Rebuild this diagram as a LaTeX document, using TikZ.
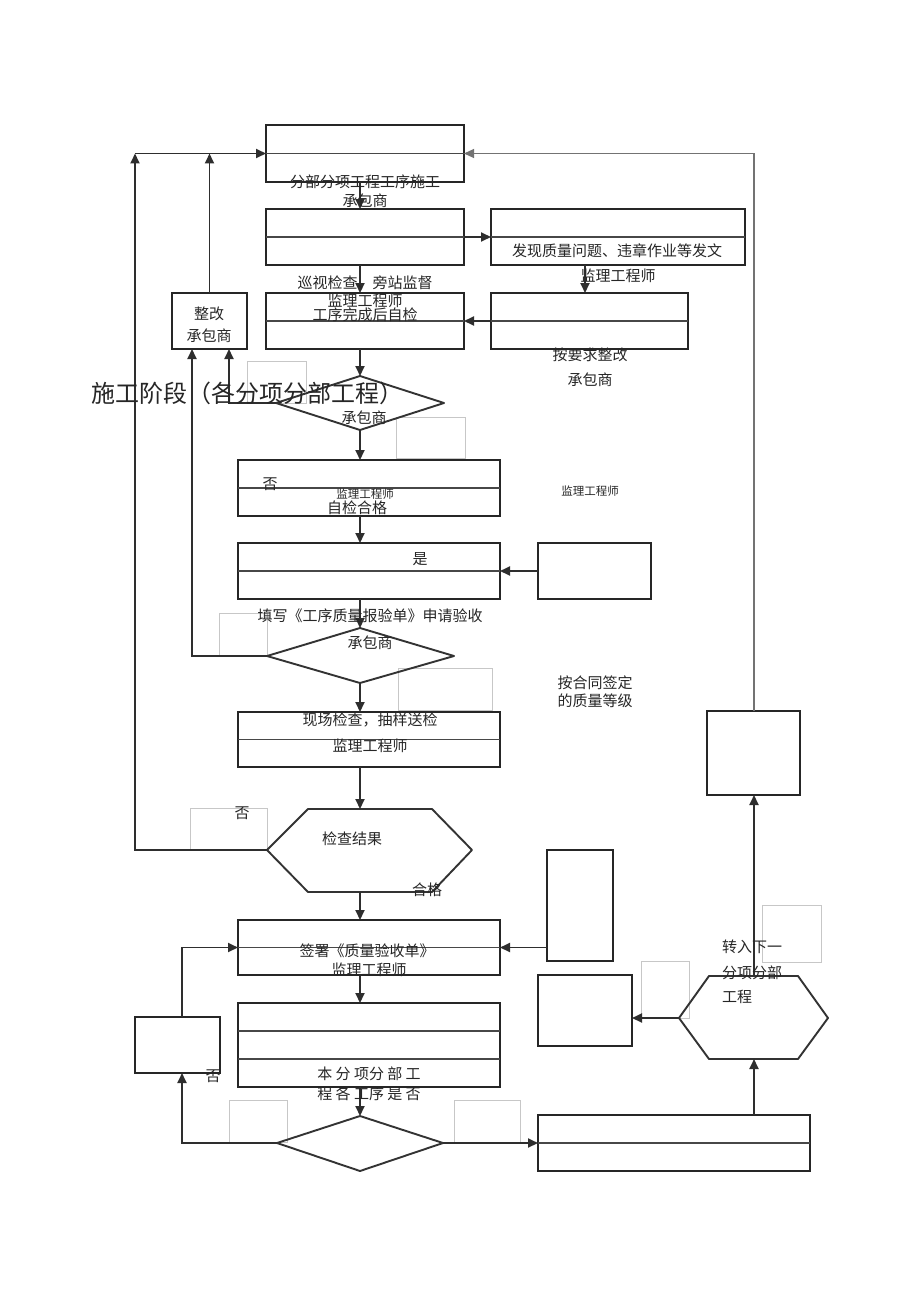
\documentclass[tikz,border=0pt]{standalone}
\usepackage{fontspec}
\setmainfont{Liberation Serif}
\newfontfamily\cjk{Noto Sans CJK SC}
\usetikzlibrary{arrows.meta}
\newcommand{\mybox}[5]{\node[box, minimum width={(#4)-(#2)}, minimum height={(#5)-(#3)}, anchor=north west] (#1) at (#2,#3) {};}
\begin{document}
\begin{tikzpicture}[x=1pt,y=-1pt,
  box/.style={draw=black!85, line width=1.9pt, inner sep=0pt, outer sep=0pt, fill=none},
  ln/.style={draw=black!82, line width=1.9pt},
  arr/.style={ln, -{Triangle[length=10pt,width=9pt]}},
  midline/.style={draw=black!72, line width=1.3pt},
  ghost/.style={draw=black!22, line width=0.6pt},
  poly/.style={draw=black!80, line width=1.9pt, line join=round},
  lbl/.style={font=\cjk\fontsize{15}{17}\selectfont, inner sep=0pt, text=black!85},
  small/.style={font=\cjk\fontsize{11.5}{13}\selectfont, inner sep=0pt, text=black!85},
  big/.style={font=\cjk\fontsize{24}{28}\selectfont, inner sep=0pt, text=black!85}]
\useasboundingbox (0,0) rectangle (920,1300);
\fill[white] (0,0) rectangle (920,1300);
% guide coordinates
\coordinate (spine) at (360,0);
\coordinate (cx) at (585,0);
\coordinate (f1) at (192,0);
\coordinate (f2) at (229,0);
\coordinate (lft) at (135,0);
\coordinate (mx) at (182,0);
\coordinate (rx) at (754,0);
% ghost text frames
\draw[ghost] (247,361) rectangle (306,403);
\draw[ghost] (396,417) rectangle (465,458);
\draw[ghost] (219,613) rectangle (267,655);
\draw[ghost] (398,668) rectangle (492,710);
\draw[ghost] (190,808) rectangle (267,850);
\draw[ghost] (229,1100) rectangle (287,1142);
\draw[ghost] (454,1100) rectangle (520,1142);
\draw[ghost] (641,961) rectangle (689,1018);
\draw[ghost] (762,905) rectangle (821,962);
% boxes
\mybox{A}{266}{125}{464}{182}
\mybox{B}{266}{209}{464}{265}
\mybox{C}{491}{209}{745}{265}
\mybox{D}{491}{293}{688}{349}
\mybox{E}{266}{293}{464}{349}
\mybox{F}{172}{293}{247}{349}
\mybox{G}{238}{460}{500}{516}
\mybox{H}{238}{543}{500}{599}
\mybox{I}{538}{543}{651}{599}
\mybox{J}{238}{712}{500}{767}
\mybox{K}{238}{920}{500}{975}
\mybox{L}{547}{850}{613}{961}
\mybox{M}{135}{1017}{220}{1073}
\mybox{N}{238}{1003}{500}{1087}
\mybox{O}{538}{1115}{810}{1171}
\mybox{P}{538}{975}{632}{1046}
\mybox{Q}{707}{711}{800}{795}
% inner rules
\draw[midline] (A.west) -- (A.east);
\draw[midline] (B.west) -- (B.east);
\draw[midline] (C.west) -- (C.east);
\draw[midline] (D.west) -- (D.east);
\draw[midline] (E.west) -- (E.east);
\draw[midline, line width=2.2pt] (G.west) -- (G.east);
\draw[midline] (H.west) -- (H.east);
\draw[midline] (J.west) -- (J.east);
\draw[midline] (K.west) -- (K.east);
\draw[midline] (238,1031) -- (500,1031);
\draw[midline] (238,1059) -- (500,1059);
\draw[midline] (O.west) -- (O.east);
% diamonds
\coordinate (d1t) at (360,376); \coordinate (d1r) at (444,403);
\coordinate (d1b) at (360,430); \coordinate (d1l) at (276,403);
\draw[poly] (d1t) -- (d1r) -- (d1b) -- (d1l) -- cycle;
\coordinate (d2t) at (360,628); \coordinate (d2r) at (454,656);
\coordinate (d2b) at (360,683); \coordinate (d2l) at (267,656);
\draw[poly] (d2t) -- (d2r) -- (d2b) -- (d2l) -- cycle;
\coordinate (d3t) at (360,1116); \coordinate (d3r) at (443,1143);
\coordinate (d3b) at (360,1171); \coordinate (d3l) at (277,1143);
\draw[poly] (d3t) -- (d3r) -- (d3b) -- (d3l) -- cycle;
% hexagons
\coordinate (h1l) at (267,850); \coordinate (h1t) at (360,809); \coordinate (h1b) at (360,892);
\draw[poly] (h1l) -- (308,809) -- (432,809) -- (472,850) -- (432,892) -- (308,892) -- cycle;
\coordinate (h2l) at (679,1018); \coordinate (h2t) at (754,976); \coordinate (h2b) at (754,1059);
\draw[poly] (h2l) -- (709,976) -- (798,976) -- (828,1018) -- (798,1059) -- (709,1059) -- cycle;
% connectors
\draw[arr] (A.south -| spine) -- (B.north -| spine);
\draw[arr] (B.east) -- (C.west);
\draw[arr] (C.south -| cx) -- (D.north -| cx);
\draw[arr] (D.west) -- (E.east);
\draw[arr] (B.south -| spine) -- (E.north -| spine);
\draw[arr] (E.south -| spine) -- (d1t);
\draw[arr] (d1l) -| (F.south -| f2);
\draw[arr] (d2l) -| (F.south -| f1);
\draw[arr] (F.north) -- (F.north |- A.west);
\draw[arr] (h1l) -| (lft |- A.west);
\draw[arr] (lft |- A.west) -- (A.west);
\draw[arr] (d1b) -- (G.north -| spine);
\draw[arr] (G.south -| spine) -- (H.north -| spine);
\draw[arr] (I.west) -- (H.east);
\draw[arr] (H.south -| spine) -- (d2t);
\draw[arr] (d2b) -- (J.north -| spine);
\draw[arr] (J.south -| spine) -- (h1t);
\draw[arr] (h1b) -- (K.north -| spine);
\draw[arr] (K.east -| L.west) -- (K.east);
\draw[arr] (M.north -| mx) |- (K.west);
\draw[arr] (K.south -| spine) -- (N.north -| spine);
\draw[arr] (N.south -| spine) -- (d3t);
\draw[arr] (d3l) -| (M.south -| mx);
\draw[arr] (d3r) -- (O.west);
\draw[arr] (O.north -| rx) -- (h2b);
\draw[arr] (h2l) -- (h2l -| P.east);
\draw[arr] (h2t) -- (Q.south -| rx);
\draw[arr, draw=black!55, line width=1.1pt] (Q.north -| rx) |- (A.east);
% texts
\node[lbl] (t1) at (365,182) {分部分项工程工序施工};
\node[lbl] (t2) at (365,201) {承包商};
\node[lbl] (t3) at (365,283) {巡视检查、旁站监督};
\node[lbl] (t4) at (365,301) {监理工程师};
\node[lbl] (t5) at (365,315) {工序完成后自检};
\node[lbl] (t6) at (209,314) {整改};
\node[lbl] (t7) at (209,336) {承包商};
\node[lbl] (t8) at (617,251) {发现质量问题、违章作业等发文};
\node[lbl] (t9) at (618,276) {监理工程师};
\node[lbl] (t10) at (590,355) {按要求整改};
\node[lbl] (t11) at (590,380) {承包商};
\node[big] (title) at (247,393) {施工阶段（各分项分部工程）};
\node[lbl] (t12) at (364,418) {承包商};
\node[lbl] (t13) at (270,484) {否};
\node[small] (t14) at (365,494) {监理工程师};
\node[lbl] (t15) at (357,508) {自检合格};
\node[small] (t16) at (590,491) {监理工程师};
\node[lbl] (t17) at (420,559) {是};
\node[lbl] (t18) at (370,616) {填写《工序质量报验单》申请验收};
\node[lbl] (t19) at (370,643) {承包商};
\node[lbl] (t20) at (595,683) {按合同签定};
\node[lbl] (t21) at (595,701) {的质量等级};
\node[lbl] (t22) at (370,720) {现场检查，抽样送检};
\node[lbl] (t23) at (370,746) {监理工程师};
\node[lbl] (t24) at (242,813) {否};
\node[lbl] (t25) at (352,839) {检查结果};
\node[lbl] (t26) at (427,890) {合格};
\node[lbl] (t27) at (367,951) {签署《质量验收单》};
\node[lbl] (t28) at (369,970) {监理工程师};
\node[lbl] (t29) at (369,1074) {本 分 项分 部 工};
\node[lbl] (t30) at (369,1094) {程 各 工序 是 否};
\node[lbl] (t31) at (213,1076) {否};
\node[lbl, anchor=west] (t32) at (722,947) {转入下一};
\node[lbl, anchor=west] (t33) at (722,973) {分项分部};
\node[lbl, anchor=west] (t34) at (722,997) {工程};
\end{tikzpicture}
\end{document}
